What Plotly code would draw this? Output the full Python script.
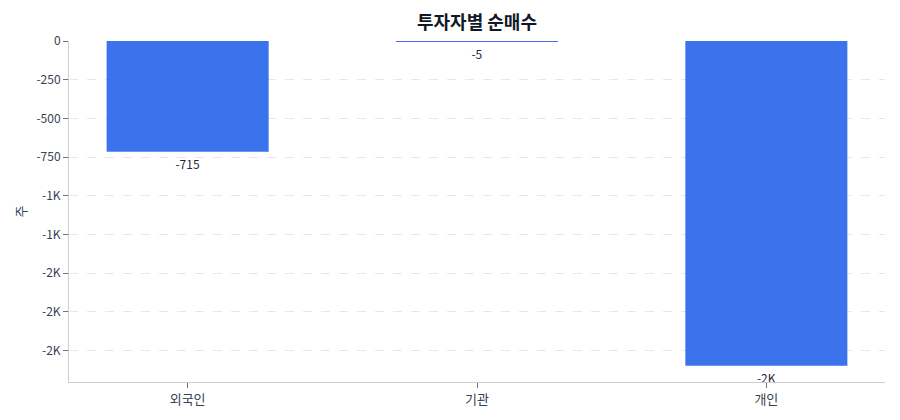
import plotly.graph_objects as go

categories = ["외국인", "기관", "개인"]
net_buy = [-715, -5, -2098]
bar_labels = ["-715", "-5", "-2K"]
tick_values = [0, -250, -500, -750, -1000, -1250, -1500, -1750, -2000]
tick_labels = ["0", "-250", "-500", "-750", "-1K", "-1K", "-2K", "-2K", "-2K"]

FONT = "Noto Sans CJK KR, Noto Sans, sans-serif"

fig = go.Figure(
    go.Bar(
        x=categories,
        y=net_buy,
        text=bar_labels,
        textposition="outside",
        cliponaxis=False,
        textfont=dict(size=12, color="#1f2937", family=FONT),
        marker=dict(color="#3b73ed", line=dict(width=0)),
        width=0.56,
    )
)

fig.update_layout(
    width=900,
    height=420,
    margin=dict(l=69, r=15, t=41, b=38, autoexpand=False),
    paper_bgcolor="white",
    plot_bgcolor="white",
    font=dict(family=FONT, size=12, color="#374151"),
    title=dict(
        text="<b>투자자별 순매수</b>",
        xref="paper",
        x=0.5,
        xanchor="center",
        y=0.945,
        yanchor="middle",
        font=dict(size=18, color="#111827", family=FONT),
    ),
    showlegend=False,
    xaxis=dict(
        range=[-0.41, 2.41],
        automargin=False,
        showline=True,
        linecolor="#c9ced9",
        linewidth=1,
        ticks="outside",
        ticklen=5,
        tickcolor="#6b7280",
        showgrid=False,
        tickfont=dict(size=13, color="#374151"),
    ),
    yaxis=dict(
        range=[-2203, 0],
        automargin=False,
        tickvals=tick_values,
        ticktext=tick_labels,
        showline=True,
        linecolor="#c9ced9",
        linewidth=1,
        ticks="outside",
        ticklen=5,
        tickcolor="#6b7280",
        showgrid=True,
        gridcolor="#e5e7eb",
        griddash="dash",
        zeroline=False,
        tickfont=dict(size=12, color="#374151"),
        title=dict(text="주", font=dict(size=13, color="#374151"), standoff=6),
    ),
)

fig.write_html(
    "out.html",
    config={"displayModeBar": False},
    post_script="document.body.style.margin='0';",
)
